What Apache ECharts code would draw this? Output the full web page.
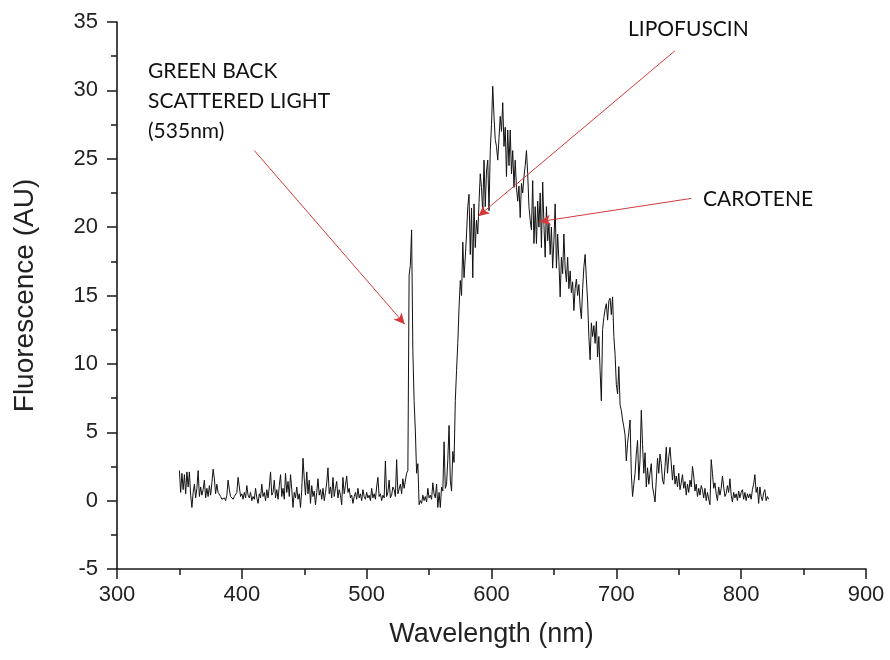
<!DOCTYPE html>
<html>
<head>
<meta charset="utf-8">
<script src="https://cdn.jsdelivr.net/npm/echarts@6/dist/echarts.min.js"></script>
<style>
html,body{margin:0;padding:0;background:#fff;}
#chart{width:890px;height:660px;}
</style>
</head>
<body>
<div id="chart"></div>
<script>
// ---- Data (wavelength in nm, 1 nm step from each segment's start) ----
const baselineStart = 350;
const baseline = [
  2.2, 0.6, 2.0, 0.8, 1.9, 0.5, 2.1, 1.0, 2.1, 0.4,
  -0.5, 0.6, 1.2, 0.2, 0.9, 2.2, 0.3, 1.0, 0.4, 0.8,
  1.5, 0.2, 0.9, 0.3, 1.1, 0.4, 1.3, 2.3, 1.6, 0.5,
  1.2, 0.6, 0.7, 0.3, 0.1, 0.0, 0.2, 0.0, 0.4, 1.5,
  0.8, 0.3, 0.4, 0.1, 0.3, 0.2, 0.6, 1.7, 1.0, 0.3,
  0.5, 0.1, 0.6, 0.2, 1.1, 0.4, 0.2, 0.6, 0.0, 0.3,
  0.1, 0.9, 0.2, -0.2, 0.5, 0.2, 1.2, 0.3, 0.6, 0.0,
  0.8, 0.2, 1.0, 2.1, 0.4, 0.6, 1.5, 0.2, 0.8, 0.1,
  1.1, 1.9, 0.3, 0.9, 0.1, 2.0, 0.6, 1.4, 0.3, 1.9,
  0.8, -0.5, 0.6, 0.2, 1.0, 0.1, 0.5, -0.5, 0.8, 3.1,
  1.6, 0.4, 2.1, 0.5, 1.5, -0.2, 1.1, 0.3, 0.7, -0.3,
  0.6, 1.6, 0.4, 0.8, 0.1, 0.9, 0.0, 0.6, 1.3, 2.4,
  0.5, 1.0, 0.2, 1.7, 0.3, 0.9, 1.4, 0.2, 0.8, 0.4,
  -0.3, 1.7, 0.5, 1.1, 1.8, 0.6, 0.9, 0.2, 0.4, -0.2,
  0.3, 0.6, 0.1, 0.9, 0.2, 0.5, 0.0, 0.8, 0.3, 0.1,
  0.6, 0.2, 0.4, 0.0, 0.9, 0.2, 0.5, 0.1, 1.0, 1.7,
  0.3, 0.5, 0.0, 0.4, 0.2, 2.9, 0.3, 0.6, 1.5, 0.2,
  0.4, 1.0, 0.8, 0.3, 3.0, 0.5, 0.6, 1.2, 0.5, 1.6
];
const scatterStart = 530;
const scatterPeak = [
  0.9, 1.0, 2.0, 2.2, 16.5, 17.2, 19.8, 11.0, 7.3, 5.1,
  2.0, 2.7, -0.3, 0.0, -0.2, 0.4, 0.0, 0.3, -0.1, 0.9,
  0.2, 0.4, 0.1, 1.3, 0.5, 0.2, 1.2, -0.5, 0.6, -0.5,
  1.0, 0.7, 4.3, 0.9, 1.2, 3.0, 5.5, 1.5, 0.7, 3.6
];
const bandStart = 570;
const emissionBand = [
  2.8, 7.3, 9.5, 11.5, 14.1, 16.1, 15.0, 18.9, 16.3, 17.8,
  19.5, 21.5, 22.4, 18.0, 21.4, 16.3, 21.7, 18.5, 20.5, 19.5,
  21.8, 23.9, 22.9, 21.0, 24.9, 21.5, 24.1, 24.9, 21.2, 25.6,
  27.5, 30.3, 28.1, 26.4, 25.9, 24.9, 26.5, 28.1, 27.0, 29.1,
  25.9, 27.3, 23.7, 27.1, 24.5, 27.1, 23.9, 25.6, 22.9, 24.9,
  22.9, 21.9, 23.0, 20.7, 23.2, 22.5, 23.7, 24.5, 25.6, 23.9,
  21.5, 20.5, 19.8, 23.4, 18.8, 21.5, 18.8, 21.9, 20.0, 22.5,
  18.5, 23.3, 20.2, 17.8, 21.5, 19.0, 20.3, 18.0, 20.0, 17.0,
  19.0, 21.7, 17.0, 19.5, 17.5, 14.9, 17.8, 16.6, 19.5, 17.0,
  16.0, 17.8, 15.5, 16.8, 15.2, 16.0, 13.9, 15.5, 16.2, 15.0,
  15.8, 14.2, 13.3, 15.5, 17.1, 18.0, 16.2, 14.6, 12.0, 10.3,
  13.0, 12.0, 12.8, 11.5, 13.1, 10.5, 12.0, 9.5, 7.3, 12.5,
  13.4, 14.0, 14.4, 13.2, 14.6, 14.8, 13.6, 14.9, 12.0, 10.7,
  8.5, 7.8, 9.8, 7.0, 6.6, 5.9, 5.4, 4.8, 2.9, 4.2,
  5.0, 5.9, 2.0, 0.3, 1.2, 2.0, 3.4, 4.4, 1.5, 3.0
];
const tailStart = 720;
const tail = [
  6.6, 4.1, 2.0, 3.5, 1.0, 2.4, 1.2, 2.0, 2.7, 1.0,
  0.5, -0.1, 1.5, 3.1, 2.0, 3.4, 2.7, 1.5, 1.2, 2.5,
  3.9, 2.0, 3.2, 3.9, 3.8, 1.5, 2.6, 1.2, 1.8, 1.0,
  2.0, 0.8, 1.3, 1.9, 0.9, 1.4, 0.4, 1.2, 0.6, 1.5,
  1.0, 2.5, 1.8, 0.7, 1.2, 0.3, 0.9, 0.4, 1.1, 0.8,
  0.2, 0.9, 0.0, 0.6, 0.1, -0.3, 3.0, 2.0, 0.9, 1.3,
  0.5, 0.0, 1.0, 0.4, 0.9, 1.8, 1.0, 0.3, 0.5, 1.1,
  0.6, 1.6, 0.4, -0.1, 0.6, 0.2, 0.5, 0.0, 0.7, 0.2,
  0.6, 0.8, 0.1, 0.6, 0.0, 0.5, 0.2, 0.5, 0.1, 0.8,
  1.2, 1.9, 0.6, 1.0, -0.2, 1.0, 0.3, 0.0, 0.6, 0.8,
  0.0, 0.3, 0.1
];
const xTicks = { min: 300, max: 900, interval: 100 };
const yTicks = { min: -5, max: 35, interval: 5 };

// Annotation arrows in data coordinates: [fromX, fromY] -> [toX, toY]
const arrowFrom = [[410, 25.6], [747, 32.9], [760, 22.1]];
const arrowTo   = [[530.5, 12.9], [589.5, 20.8], [638.5, 20.4]];
const annotationTexts = ['GREEN BACK\nSCATTERED LIGHT\n(535nm)', 'LIPOFUSCIN', 'CAROTENE'];

// ---- Build series ----
const segments = [[baselineStart, baseline], [scatterStart, scatterPeak], [bandStart, emissionBand], [tailStart, tail]];
const points = [];
segments.forEach(([start, vals]) => vals.forEach((v, i) => points.push([start + i, v])));

const chart = echarts.init(document.getElementById('chart'), null, { renderer: 'canvas' });
const axisColor = '#1a1a1a';
const labelFont = 'Liberation Sans, Arial, sans-serif';
const annFont = 'Lato, "Open Sans", sans-serif';

chart.setOption({
  animation: false,
  backgroundColor: '#ffffff',
  grid: { left: 117, right: 24, top: 22, bottom: 91, containLabel: false },
  xAxis: {
    type: 'value', min: xTicks.min, max: xTicks.max, interval: xTicks.interval,
    name: 'Wavelength (nm)', nameLocation: 'middle', nameGap: 52,
    nameTextStyle: { fontSize: 27, color: '#222', fontFamily: labelFont },
    axisLine: { onZero: false, lineStyle: { color: axisColor, width: 1.6 } },
    axisTick: { show: true, inside: false, length: 10, lineStyle: { color: axisColor, width: 1.5 } },
    minorTick: { show: true, splitNumber: 2, length: 6, lineStyle: { color: axisColor, width: 1.5 } },
    axisLabel: { fontSize: 22, color: '#222', margin: 15, fontFamily: labelFont },
    splitLine: { show: false }, minorSplitLine: { show: false }
  },
  yAxis: {
    type: 'value', min: yTicks.min, max: yTicks.max, interval: yTicks.interval,
    name: 'Fluorescence (AU)', nameLocation: 'middle', nameGap: 78,
    nameTextStyle: { fontSize: 28, color: '#222', fontFamily: labelFont },
    axisLine: { onZero: false, lineStyle: { color: axisColor, width: 1.6 } },
    axisTick: { show: true, inside: false, length: 10, lineStyle: { color: axisColor, width: 1.5 } },
    minorTick: { show: true, splitNumber: 2, length: 6, lineStyle: { color: axisColor, width: 1.5 } },
    axisLabel: { fontSize: 22, color: '#222', margin: 19, fontFamily: labelFont },
    splitLine: { show: false }, minorSplitLine: { show: false }
  },
  series: [{
    type: 'line',
    data: points,
    showSymbol: false,
    symbol: 'none',
    lineStyle: { color: '#111', width: 1 },
    markLine: {
      silent: true,
      symbol: ['none', 'arrow'],
      symbolSize: [8, 11],
      label: { show: false },
      lineStyle: { color: '#d23a3a', width: 1, type: 'solid' },
      data: arrowFrom.map((f, i) => [{ coord: f }, { coord: arrowTo[i] }])
    }
  }],
  graphic: [
    { type: 'text', left: 148, top: 56, style: { text: annotationTexts[0], font: '21px ' + annFont, lineHeight: 30, fill: '#111' } },
    { type: 'text', left: 628, top: 14, style: { text: annotationTexts[1], font: '21px ' + annFont, lineHeight: 30, fill: '#111' } },
    { type: 'text', left: 703, top: 184, style: { text: annotationTexts[2], font: '21px ' + annFont, lineHeight: 30, fill: '#111' } }
  ]
});
</script>
</body>
</html>
